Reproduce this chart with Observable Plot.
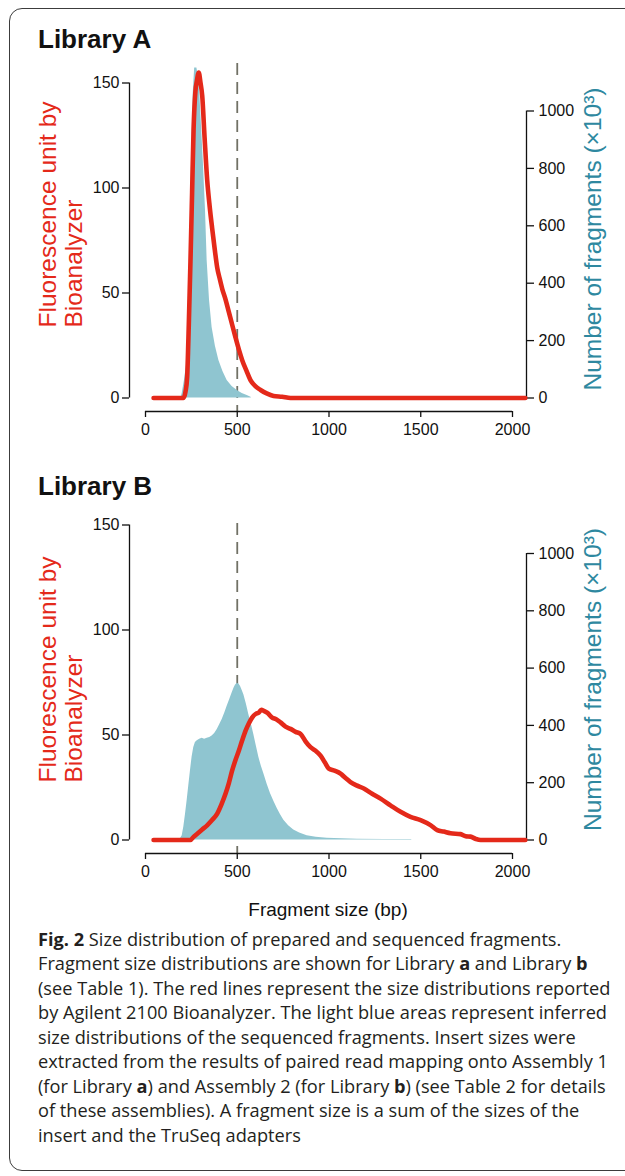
<!DOCTYPE html>
<html><head><meta charset="utf-8">
<script src="https://cdn.jsdelivr.net/npm/d3@7"></script>
<script src="https://cdn.jsdelivr.net/npm/@observablehq/plot@0.6"></script>
<style>
body{margin:0;background:#fff;}
#root{position:relative;width:625px;height:1176px;overflow:hidden;font-family:"Liberation Sans",Arial,Helvetica,sans-serif;background:#fff;}
.box{position:absolute;left:9px;top:8px;width:660px;height:1163px;border:1.5px solid #3c3c3c;border-radius:13px;box-sizing:border-box;}
.title{position:absolute;left:38px;font-weight:bold;font-size:26px;color:#111;line-height:26px;white-space:nowrap;}
.layer{position:absolute;left:0;}
.layer svg{overflow:visible;font-family:"Liberation Sans",Arial,Helvetica,sans-serif !important;}
#caption{position:absolute;left:38px;top:926.5px;font-family:"Open Sans",sans-serif;font-size:18.2px;line-height:24.5px;color:#231f20;white-space:nowrap;}
#caption b{font-weight:bold;}
</style></head>
<body><div id="root">
<div class="box"></div>
<div class="title" style="top:26px">Library A</div>
<div class="title" style="top:472.5px">Library B</div>
<div class="layer" id="blueA" style="top:55px"></div>
<div class="layer" id="redA" style="top:55px"></div>
<div class="layer" id="blueB" style="top:500px"></div>
<div class="layer" id="redB" style="top:500px"></div>
<div id="caption"><b>Fig. 2</b> Size distribution of prepared and sequenced fragments.<br>Fragment size distributions are shown for Library <b>a</b> and Library <b>b</b><br>(see Table 1). The red lines represent the size distributions reported<br>by Agilent 2100 Bioanalyzer. The light blue areas represent inferred<br>size distributions of the sequenced fragments. Insert sizes were<br>extracted from the results of paired read mapping onto Assembly 1<br>(for Library <b>a</b>) and Assembly 2 (for Library <b>b</b>) (see Table 2 for details<br>of these assemblies). A fragment size is a sum of the sizes of the<br>insert and the TruSeq adapters</div>
</div>
<script>
// ---- data (fragment size in bp, value) ----
const xTicks = [0, 500, 1000, 1500, 2000];
const leftTicks = [0, 50, 100, 150];
const rightTicks = [0, 200, 400, 600, 800, 1000];
const leftLabel = "Fluorescence unit by\nBioanalyzer";
const rightLabel = "Number of fragments (\u00d710\u00b3)";
const xLabel = "Fragment size (bp)";
const markerBp = [500];

// Library A: Bioanalyzer fluorescence (red)
const redA = [[44,0],[207,0],[218,3],[227,10],[236,35],[245,65],[254,98],[262,128],[272,146],[280,151],[290,155],[300,150],[309,144],[322,124],[336,104],[350,91],[363,81],[377,71],[391,62],[404,57],[418,52],[436,47],[454,41],[472,35],[490,29],[509,23],[527,18],[550,13],[572,8.5],[600,5.5],[627,3.8],[660,2.2],[698,1],[745,0.6],[790,0],[2070,0]];
// Library A: sequenced fragments x10^3 (blue)
const blueA = [[193,0],[200,16],[212,60],[227,131],[235,300],[241,479],[251,826],[260,1061],[268,1150],[280,1150],[288,1120],[296,1061],[305,950],[315,826],[327,653],[336,479],[349,340],[363,246],[381,180],[400,131],[422,92],[445,61],[472,40],[500,26],[527,16],[554,9],[575,3],[577,0]];
// Library B: Bioanalyzer fluorescence (red)
const redB = [[44,0],[245,0],[262,1.5],[282,3],[309,5],[336,7],[363,9.5],[391,12.6],[414,17],[436,22],[454,27],[472,33],[490,38],[509,42.6],[527,47.5],[545,52],[563,55.5],[581,58.3],[600,60],[618,60.7],[631,62],[645,61.5],[665,60.5],[690,58.3],[712,57.5],[736,56],[763,54],[790,52.9],[818,51.5],[845,50.5],[872,47],[899,44.2],[927,42.5],[954,40.2],[977,37],[999,34],[1030,33],[1063,31.6],[1090,29.5],[1117,27.6],[1150,26],[1190,24.5],[1235,22],[1281,19.7],[1335,16.5],[1390,13.4],[1444,11],[1499,9.5],[1553,7.1],[1590,4.7],[1625,4],[1662,3.2],[1717,2.8],[1745,1.8],[1771,1.6],[1800,0.5],[1826,0],[2070,0]];
// Library B: sequenced fragments x10^3 (blue)
const blueB = [[186,0],[200,15],[209,46],[218,90],[227,138],[236,190],[245,242],[254,290],[263,323],[272,340],[282,346],[295,352],[309,355],[322,352],[336,355],[350,358],[363,363],[377,372],[391,386],[404,402],[418,421],[432,443],[445,467],[459,490],[472,513],[482,530],[490,540],[500,547],[510,544],[518,536],[527,522],[536,507],[550,474],[563,438],[577,404],[590,369],[604,328],[618,288],[631,258],[645,231],[663,195],[681,162],[700,134],[718,110],[736,88],[754,69],[780,50],[808,35],[840,24],[881,15],[930,10],[990,6],[1070,4],[1154,3],[1300,2],[1450,1.5],[1452,0]];

// ---- styling ----
const RED = "#e4291a", BLUE = "#8fc5d0", TEAL = "#2e88a0", INK = "#111";
const FONT = '"Liberation Sans", Arial, Helvetica, sans-serif';
const W = 625, H = 400, ML = 129, MR = 99, IL = 16, IR = 14, IB = 13.5;
const fmt = d => String(d);

function panel(cfg) {
  const common = {
    width: W, height: H, marginTop: cfg.mt, marginBottom: cfg.mb, marginLeft: ML, marginRight: MR,
    style: {fontFamily: FONT, fontSize: "16px", color: INK, background: "transparent", overflow: "visible"}
  };
  const blue = Plot.plot({
    ...common,
    x: {domain: [0, 2000], insetLeft: IL, insetRight: IR, axis: null},
    y: {domain: [0, 1000], insetTop: cfg.rIt, insetBottom: IB, axis: null},
    marks: [
      Plot.ruleX(markerBp, {stroke: "#717166", strokeWidth: 1.8, strokeDasharray: "12,7"}),
      Plot.areaY(cfg.blue, {x: d => d[0], y: d => d[1], fill: BLUE}),
      Plot.ruleX([2000], {y1: 0, y2: 1000, dx: IR, stroke: INK, strokeWidth: 1.3}),
      Plot.axisY(rightTicks, {anchor: "right", tickSize: 7, tickPadding: 5, label: null, strokeWidth: 1.3, fill: INK, tickFormat: fmt, fontFamily: FONT, fontSize: 16}),
      Plot.text([rightLabel], {frameAnchor: "right", textAnchor: "middle", lineAnchor: "middle", rotate: -90, dx: 67, dy: cfg.rdy, fill: TEAL, fontSize: 24.5, fontFamily: FONT})
    ]
  });
  const red = Plot.plot({
    ...common,
    x: {domain: [0, 2000], insetLeft: IL, insetRight: IR},
    y: {domain: [0, 150], insetTop: cfg.lIt, insetBottom: IB},
    marks: [
      Plot.line(cfg.red, {x: d => d[0], y: d => d[1], stroke: RED, strokeWidth: 4.6, strokeLinecap: "round", strokeLinejoin: "round", curve: "monotone-x"}),
      Plot.ruleX([0], {y1: 0, y2: 150, dx: -IL, stroke: INK, strokeWidth: 1.3}),
      Plot.ruleY([0], {x1: 0, x2: 2000, dy: IB, stroke: INK, strokeWidth: 1.3}),
      Plot.axisY(leftTicks, {anchor: "left", tickSize: 7, tickPadding: 3, label: null, strokeWidth: 1.3, fill: INK, tickFormat: fmt, fontFamily: FONT, fontSize: 16}),
      Plot.axisX(xTicks, {anchor: "bottom", tickSize: 6, tickPadding: 6, label: null, strokeWidth: 1.3, fill: INK, tickFormat: fmt, fontFamily: FONT, fontSize: 16}),
      Plot.text([leftLabel], {frameAnchor: "bottom-left", rotate: -90, textAnchor: "start", lineAnchor: "middle", lineHeight: 1.04, dx: -68.5, dy: cfg.ldy, fill: RED, fontSize: 24.5, fontFamily: FONT}),
      ...(cfg.xlabel ? [Plot.text([xLabel], {frameAnchor: "bottom", textAnchor: "middle", lineAnchor: "bottom", dy: 62, fill: INK, fontSize: 19, fontFamily: FONT})] : [])
    ]
  });
  document.getElementById(cfg.blueId).append(blue);
  document.getElementById(cfg.redId).append(red);
}

panel({blueId: "blueA", redId: "redA", red: redA, blue: blueA, mt: 8, mb: 44, lIt: 19.5, rIt: 47.5, ldy: -84, rdy: 1.5, xlabel: false});
panel({blueId: "blueB", redId: "redB", red: redB, blue: blueB, mt: 23, mb: 47, lIt: 1.5, rIt: 30, ldy: -71, rdy: -9, xlabel: true});
</script>
</body></html>
